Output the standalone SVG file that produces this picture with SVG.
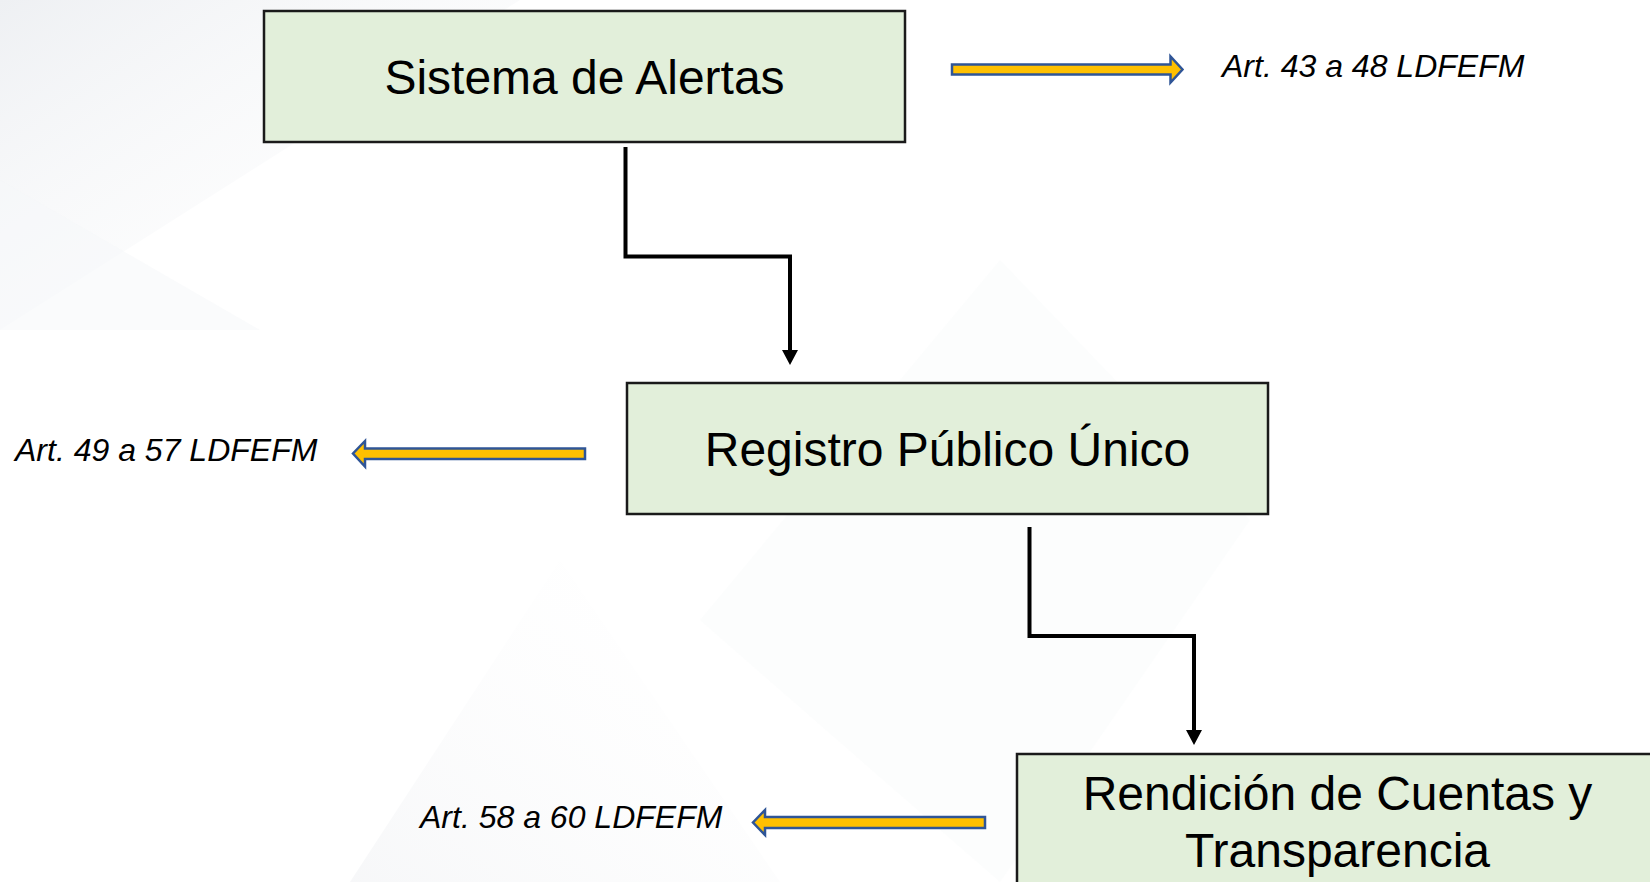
<svg xmlns="http://www.w3.org/2000/svg" width="1650" height="882" viewBox="0 0 1650 882">
  <defs>
    <linearGradient id="bg1" x1="0" y1="0" x2="1" y2="1">
      <stop offset="0" stop-color="#eef0f3"/>
      <stop offset="1" stop-color="#ffffff" stop-opacity="0"/>
    </linearGradient>
    <linearGradient id="bg2" x1="0" y1="1" x2="1" y2="0">
      <stop offset="0" stop-color="#f3f4f6"/>
      <stop offset="1" stop-color="#ffffff" stop-opacity="0"/>
    </linearGradient>
    <style>
      .box { fill: #E2EFDA; stroke: #1a1a1a; stroke-width: 2.5; }
      .title { font-family: "Liberation Sans", Arial, sans-serif; font-size: 48px; fill: #000; text-anchor: middle; }
      .ref { font-family: "Liberation Sans", Arial, sans-serif; font-size: 32px; font-style: italic; fill: #000; }
      .block { fill: #FFC000; stroke: #2F5597; stroke-width: 2.5; stroke-linejoin: miter; }
      .conn { fill: none; stroke: #000; stroke-width: 4; }
    </style>
  </defs>

  <rect width="1650" height="882" fill="#ffffff"/>
  <g id="background">
    <polygon points="0,0 520,0 0,330" fill="url(#bg1)"/>
    <polygon points="0,180 260,330 0,330" fill="#f6f7f9" opacity="0.5"/>
    <polygon points="350,882 560,560 780,882" fill="url(#bg2)" opacity="0.7"/>
    <polygon points="700,620 1000,260 1250,520 1000,882" fill="#fafbfc" opacity="0.5"/>
  </g>

  <g id="connectors">
    <polyline class="conn" points="625.5,147 625.5,256.5 790,256.5 790,352" />
    <polygon points="782,350 798,350 790,365" fill="#000"/>
    <polyline class="conn" points="1029.5,527 1029.5,636 1194,636 1194,732" />
    <polygon points="1186,730 1202,730 1194,745" fill="#000"/>
  </g>

  <g id="node-sistema">
    <rect class="box" x="264" y="11" width="641" height="131"/>
    <text class="title" x="584.5" y="94">Sistema de Alertas</text>
  </g>

  <g id="node-registro">
    <rect class="box" x="627" y="383" width="641" height="131"/>
    <text class="title" x="947.5" y="466">Registro Público Único</text>
  </g>

  <g id="node-rendicion">
    <rect class="box" x="1017" y="754" width="645" height="140"/>
    <text class="title" x="1337.5" y="810">Rendición de Cuentas y</text>
    <text class="title" x="1337.5" y="867">Transparencia</text>
  </g>

  <g id="ref-43">
    <polygon class="block" points="952,64.5 1170.5,64.5 1170.5,56.5 1182.5,69.5 1170.5,82.5 1170.5,74.5 952,74.5"/>
    <text class="ref" x="1222" y="77">Art. 43 a 48 LDFEFM</text>
  </g>

  <g id="ref-49">
    <polygon class="block" points="585,448.5 365,448.5 365,441 353,453.5 365,466.5 365,459 585,459"/>
    <text class="ref" x="15" y="461">Art. 49 a 57 LDFEFM</text>
  </g>

  <g id="ref-58">
    <polygon class="block" points="985,817 765,817 765,810 753,822.5 765,835 765,828 985,828"/>
    <text class="ref" x="420" y="828">Art. 58 a 60 LDFEFM</text>
  </g>
</svg>
